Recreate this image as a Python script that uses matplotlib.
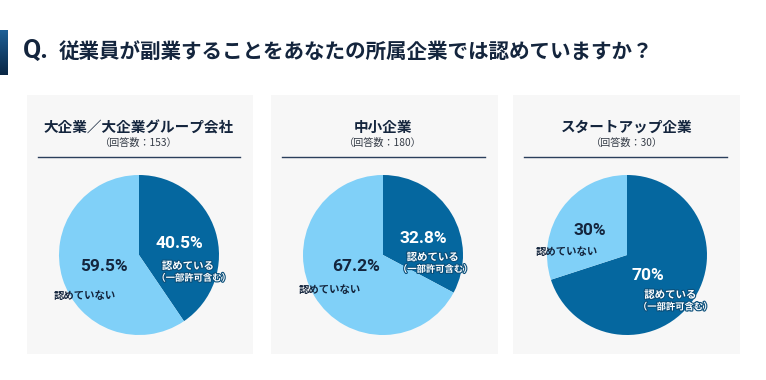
import matplotlib
matplotlib.use("Agg")
import matplotlib.pyplot as plt
import matplotlib.patheffects as pe
from matplotlib.patches import Rectangle
import numpy as np

plt.rcParams['font.family'] = ['Noto Sans CJK JP', 'DejaVu Sans']

# data
question = "従業員が副業することをあなたの所属企業では認めていますか？"
groups = ["大企業／大企業グループ会社", "中小企業", "スタートアップ企業"]
respondents = [153, 180, 30]
allowed = [40.5, 32.8, 70]
not_allowed = [59.5, 67.2, 30]
pct_text_allowed = ["40.5%", "32.8%", "70%"]
pct_text_not = ["59.5%", "67.2%", "30%"]

DARK = "#05679f"
LIGHT = "#80d0f8"
NAVY = "#14253d"
PANEL = "#f7f7f7"

W, H = 766, 380
fig = plt.figure(figsize=(W / 100, H / 100), dpi=100)
fig.patch.set_facecolor("white")


def fx(px):
    return px / W


def fy(py):
    return 1 - py / H


# header bar with gradient
bar = fig.add_axes([0, fy(75), fx(8), (75 - 30) / H])
grad = np.linspace(0, 1, 50).reshape(-1, 1)
bar.imshow(grad, aspect="auto", cmap=matplotlib.colors.LinearSegmentedColormap.from_list(
    "g", ["#1d5f96", "#0a2745"]))
bar.axis("off")

fig.text(fx(23), fy(51), "Q.", fontsize=19, fontweight="bold", color=NAVY,
         family=["Roboto", "DejaVu Sans"], va="center", ha="left")
fig.text(fx(59), fy(51), question, fontsize=14.8, fontweight="bold", color=NAVY,
         va="center", ha="left")

panels = [(27, 253), (271, 498), (513, 740)]
centers = [139, 383, 627]
R = 80
CY = 255

# label offsets in pie units: (pct_allowed, label_allowed, sub_allowed, pct_not, label_not)
offsets = [
    [(0.50, 0.14), (0.61, -0.14), (0.68, -0.29), (-0.44, -0.14), (-0.68, -0.51)],
    [(0.50, 0.21), (0.62, -0.03), (0.65, -0.18), (-0.34, -0.14), (-0.66, -0.44)],
    [(0.26, -0.26), (0.54, -0.50), (0.60, -0.65), (-0.46, 0.30), (-0.75, 0.04)],
]
outline = [pe.withStroke(linewidth=1.6, foreground="#0b4f7a")]

for i, g in enumerate(groups):
    x0, x1 = panels[i]
    fig.patches.append(Rectangle((fx(x0), fy(354)), fx(x1 - x0), (354 - 95) / H,
                                 transform=fig.transFigure, facecolor=PANEL,
                                 edgecolor="none", zorder=-5))
    cx = centers[i]
    fig.text(fx(cx), fy(127), g, fontsize=10.5, fontweight="bold", color=NAVY,
             ha="center", va="center")
    fig.text(fx(cx), fy(143), "（回答数：%d）" % respondents[i], fontsize=7.3,
             color="#333a45", ha="center", va="center")
    fig.add_artist(plt.Line2D([fx(x0 + 11), fx(x1 - 13)], [fy(157), fy(157)],
                              color="#2b3f5c", lw=1, transform=fig.transFigure))

    ax = fig.add_axes([fx(cx - R), fy(CY + R), fx(2 * R), 2 * R / H])
    ax.pie([allowed[i], not_allowed[i]], colors=[DARK, LIGHT], startangle=90,
           counterclock=False, radius=1)
    ax.set_xlim(-1, 1)
    ax.set_ylim(-1, 1)
    ax.set_aspect("equal")
    ax.axis("off")

    o = offsets[i]
    ax.text(*o[0], pct_text_allowed[i], fontsize=12.5, fontweight="bold",
            color="white", ha="center", va="center", family=["Roboto", "DejaVu Sans"])
    ax.text(*o[1], "認めている", fontsize=7.5, fontweight="bold", color="white",
            ha="center", va="center", path_effects=outline)
    ax.text(*o[2], "（一部許可含む）", fontsize=6.7, fontweight="bold", color="white",
            ha="center", va="center", path_effects=outline)
    ax.text(*o[3], pct_text_not[i], fontsize=12.5, fontweight="bold", color=NAVY,
            ha="center", va="center", family=["Roboto", "DejaVu Sans"])
    ax.text(*o[4], "認めていない", fontsize=7.5, fontweight="bold", color=NAVY,
            ha="center", va="center")

fig.savefig("out.png", dpi=100)
